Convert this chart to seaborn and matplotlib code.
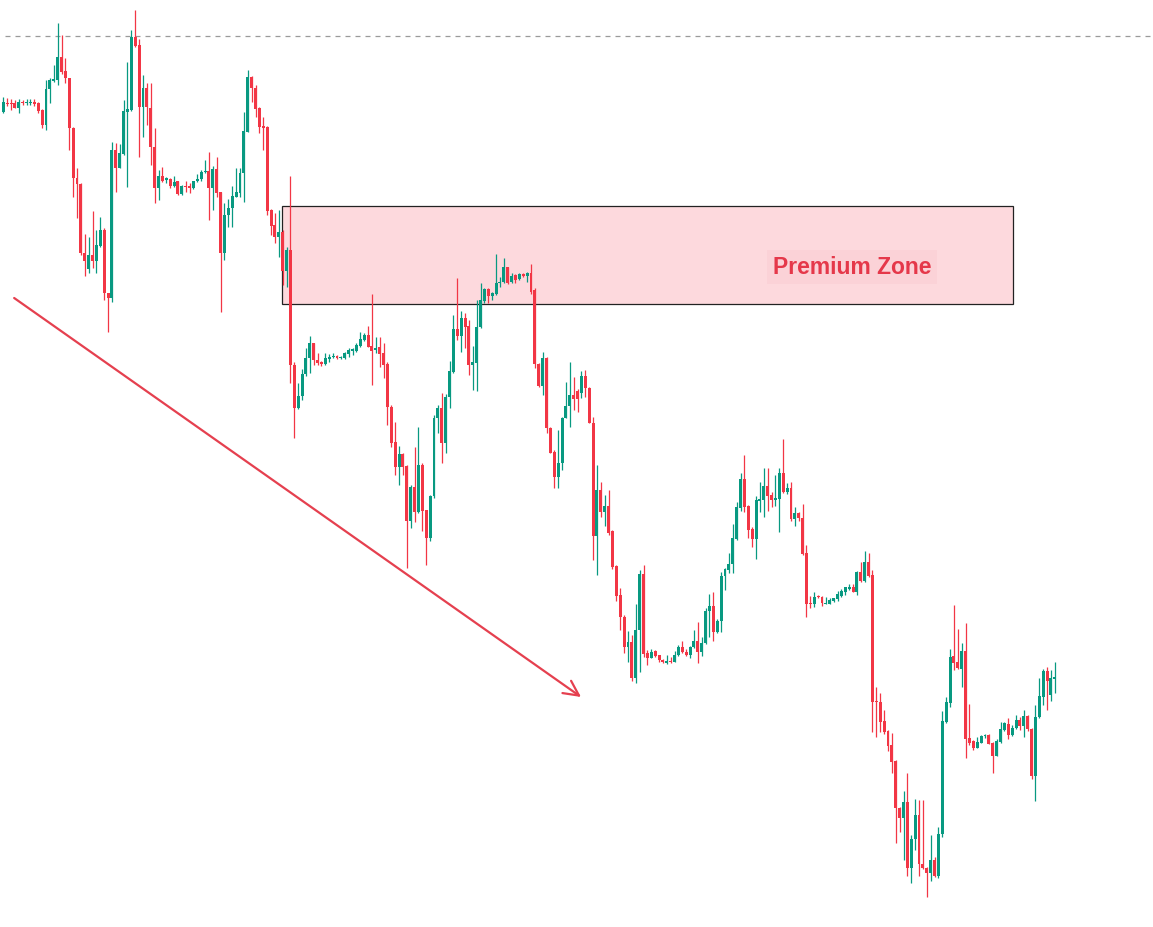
import numpy as np
import pandas as pd
import matplotlib
matplotlib.use("Agg")
import matplotlib.pyplot as plt
from matplotlib.patches import Rectangle
import seaborn as sns

# --- OHLC values (one candle per bar, left to right)
opens = [
    888, 897, 897, 897, 892, 898, 897, 897, 898, 897,
    890, 875, 911, 919, 920, 943, 929, 922, 872, 822,
    816, 747, 731, 745, 739, 754, 770, 707, 702, 850,
    832, 846, 888, 890, 963, 955, 893, 912, 892, 853,
    812, 824, 820, 821, 814, 819, 806, 814, 814, 812,
    819, 821, 828, 829, 812, 831, 808, 747, 785, 792,
    803, 807, 827, 868, 923, 912, 892, 874, 873, 790,
    775, 763, 768, 729, 750, 635, 592, 604, 626, 642,
    657, 640, 638, 636, 641, 643, 644, 642, 642, 646,
    649, 649, 654, 660, 665, 654, 650, 653, 647, 636,
    593, 558, 533, 546, 534, 479, 513, 488, 535, 490,
    462, 504, 582, 592, 557, 603, 628, 671, 664, 682,
    674, 635, 637, 673, 699, 711, 704, 706, 717, 718,
    733, 718, 725, 721, 726, 724, 727, 710, 636, 614,
    642, 572, 548, 523, 537, 582, 594, 605, 609, 607,
    624, 612, 577, 464, 510, 488, 494, 469, 434, 405,
    383, 353, 358, 322, 370, 426, 347, 342, 349, 345,
    340, 337, 339, 338, 345, 353, 348, 345, 353, 359,
    348, 357, 389, 394, 368, 379, 424, 430, 436, 461,
    492, 521, 494, 471, 461, 499, 500, 514, 505, 500,
    501, 527, 508, 512, 481, 487, 482, 447, 397, 396,
    404, 403, 396, 396, 399, 401, 404, 408, 411, 413,
    408, 428, 419, 438, 425, 299, 298, 279, 269, 255,
    239, 192, 182, 198, 132, 161, 185, 136, 132, 127,
    140, 124, 166, 278, 297, 344, 338, 331, 349, 262,
    259, 252, 257, 264, 265, 257, 244, 258, 270, 276,
    265, 272, 280, 274, 284, 271, 224, 283, 303, 329,
    305, 321,
]
closes = [
    898, 896, 896, 892, 898, 897, 898, 898, 896, 889,
    875, 911, 920, 921, 943, 928, 922, 872, 822, 816,
    747, 739, 745, 739, 755, 770, 707, 702, 850, 832,
    847, 889, 891, 963, 954, 893, 912, 893, 853, 812,
    824, 819, 822, 814, 818, 806, 814, 813, 812, 819,
    821, 828, 829, 812, 831, 807, 747, 785, 792, 804,
    808, 827, 869, 923, 912, 891, 873, 872, 789, 774,
    763, 768, 729, 750, 635, 592, 604, 626, 642, 657,
    640, 637, 636, 642, 643, 644, 642, 643, 647, 650,
    651, 655, 661, 665, 653, 649, 652, 646, 635, 593,
    557, 533, 546, 533, 479, 513, 488, 535, 489, 462,
    504, 582, 592, 557, 603, 629, 671, 664, 682, 673,
    635, 638, 673, 700, 711, 704, 707, 717, 718, 733,
    717, 724, 720, 726, 724, 727, 708, 636, 614, 642,
    572, 547, 523, 537, 582, 594, 605, 601, 601, 624,
    612, 577, 464, 510, 488, 494, 467, 433, 404, 383,
    353, 358, 322, 370, 426, 346, 342, 348, 344, 340,
    338, 339, 338, 345, 353, 348, 345, 353, 359, 348,
    357, 389, 394, 368, 379, 424, 431, 436, 462, 493,
    521, 493, 470, 461, 500, 501, 514, 504, 500, 502,
    527, 508, 512, 481, 487, 482, 446, 396, 396, 403,
    403, 397, 397, 400, 402, 406, 409, 413, 413, 408,
    428, 419, 438, 424, 298, 298, 278, 268, 254, 238,
    192, 182, 198, 132, 161, 185, 136, 132, 127, 140,
    124, 166, 279, 298, 343, 337, 332, 349, 261, 257,
    252, 258, 264, 265, 256, 244, 259, 271, 277, 265,
    272, 280, 274, 284, 271, 224, 283, 304, 329, 319,
    322, 323,
]
highs = [
    903, 902, 901, 900, 901, 900, 901, 901, 901, 898,
    891, 920, 922, 935, 977, 965, 942, 922, 873, 832,
    817, 766, 763, 789, 770, 783, 772, 707, 858, 857,
    856, 900, 938, 970, 990, 961, 925, 917, 917, 872,
    830, 833, 823, 822, 824, 819, 815, 819, 817, 819,
    826, 830, 840, 848, 834, 843, 808, 797, 801, 814,
    832, 832, 888, 930, 924, 915, 893, 883, 874, 791,
    787, 790, 770, 753, 824, 638, 617, 631, 652, 664,
    657, 647, 639, 647, 646, 647, 645, 644, 648, 652,
    652, 657, 668, 667, 674, 706, 663, 663, 657, 638,
    595, 578, 554, 547, 535, 515, 553, 573, 537, 490,
    505, 585, 595, 607, 606, 639, 685, 722, 689, 687,
    680, 654, 700, 717, 712, 712, 708, 746, 723, 742,
    733, 727, 726, 727, 727, 728, 736, 712, 637, 648,
    643, 573, 550, 570, 583, 618, 638, 623, 611, 629,
    630, 613, 583, 535, 518, 505, 510, 470, 435, 412,
    385, 369, 365, 396, 430, 435, 350, 351, 350, 345,
    341, 345, 343, 349, 355, 359, 351, 354, 370, 378,
    363, 392, 406, 408, 381, 428, 432, 447, 476, 498,
    527, 545, 495, 473, 504, 518, 532, 532, 508, 525,
    532, 561, 517, 518, 493, 488, 496, 455, 404, 408,
    405, 404, 403, 402, 402, 409, 411, 413, 416, 416,
    429, 438, 449, 447, 430, 313, 307, 290, 270, 267,
    240, 193, 209, 227, 165, 201, 200, 200, 133, 165,
    143, 173, 289, 303, 351, 395, 371, 357, 377, 296,
    260, 263, 265, 266, 266, 258, 261, 278, 278, 282,
    275, 285, 283, 290, 285, 272, 295, 322, 331, 333,
    330, 338,
]
lows = [
    887, 894, 890, 892, 887, 895, 895, 895, 894, 887,
    872, 870, 897, 918, 915, 926, 917, 850, 803, 782,
    745, 724, 727, 732, 727, 753, 700, 668, 698, 808,
    832, 845, 813, 889, 953, 843, 863, 875, 835, 797,
    800, 818, 817, 812, 813, 805, 805, 808, 807, 811,
    818, 819, 827, 780, 790, 803, 688, 740, 773, 773,
    803, 803, 798, 868, 898, 883, 867, 850, 785, 765,
    757, 743, 715, 713, 617, 562, 591, 600, 624, 627,
    635, 635, 634, 635, 638, 642, 641, 641, 641, 643,
    645, 648, 653, 659, 653, 615, 647, 633, 622, 575,
    553, 525, 515, 525, 432, 472, 478, 487, 469, 435,
    459, 502, 567, 537, 547, 592, 627, 660, 648, 652,
    625, 610, 609, 672, 697, 697, 700, 705, 713, 717,
    716, 717, 717, 720, 723, 718, 706, 632, 613, 605,
    567, 547, 512, 512, 530, 582, 573, 590, 588, 602,
    603, 577, 440, 425, 483, 474, 465, 431, 399, 370,
    347, 338, 319, 317, 328, 343, 335, 342, 343, 338,
    337, 336, 337, 338, 344, 347, 344, 342, 352, 337,
    344, 356, 363, 359, 367, 368, 410, 427, 427, 460,
    489, 488, 462, 453, 441, 488, 483, 489, 493, 494,
    468, 507, 506, 479, 474, 479, 445, 383, 392, 393,
    402, 394, 396, 396, 398, 399, 403, 405, 410, 408,
    405, 418, 418, 423, 268, 263, 268, 266, 249, 227,
    157, 168, 140, 124, 117, 150, 124, 131, 103, 119,
    123, 122, 163, 277, 293, 330, 331, 313, 242, 255,
    250, 252, 257, 262, 256, 227, 244, 257, 269, 261,
    264, 271, 270, 263, 269, 221, 199, 282, 295, 290,
    299, 307,
]

# annotations
resistance_level = 964
zone_start, zone_end = 71.8, 260.2
zone_bottom, zone_top = 696, 794
zone_label = "Premium Zone"
label_x, label_y = 218.7, 733
trend_start = (2.8, 702)
trend_end = (148.9, 303)

df = pd.DataFrame({"open": opens, "high": highs, "low": lows, "close": closes})
df["idx"] = np.arange(len(df))
df["up"] = df["close"] >= df["open"]

UP = "#089981"
DOWN = "#F23645"

sns.set_theme(style="white")
fig = plt.figure(figsize=(11.53, 9.27), dpi=100)
ax = fig.add_axes([0, 0, 1, 1])

colors = np.where(df["up"], UP, DOWN)

# wicks
ax.vlines(df["idx"], df["low"], df["high"], colors=colors, linewidth=0.9, zorder=3)

# bodies
body_bottom = df[["open", "close"]].min(axis=1)
body_height = (df["close"] - df["open"]).abs().clip(lower=1.2)
ax.bar(df["idx"], body_height, bottom=body_bottom, width=0.76,
       color=colors, linewidth=0, zorder=4)

# dashed level at the top
ax.axhline(resistance_level, color="#9a9a9a", linestyle=(0, (4, 4)),
           linewidth=0.9, xmin=0.004, zorder=1)

# premium zone box
ax.add_patch(Rectangle((zone_start, zone_bottom), zone_end - zone_start,
                       zone_top - zone_bottom, facecolor="#fdd9dd",
                       edgecolor="#222222", linewidth=0.9, zorder=2))
ax.text(label_x, label_y, zone_label, color="#E5384A", fontsize=16.5,
        fontweight="bold", family=["Liberation Sans", "DejaVu Sans"],
        ha="center", va="center",
        bbox=dict(boxstyle="square,pad=0.25", facecolor="#fbd2d7", edgecolor="none"),
        zorder=5)

# downtrend arrow
ax.annotate("", xy=trend_end, xytext=trend_start,
            arrowprops=dict(arrowstyle="->,head_length=0.9,head_width=0.45",
                            color="#E5404F", linewidth=1.6, shrinkA=0, shrinkB=0),
            zorder=2)

ax.set_xlim(-0.85, 296.3)
ax.set_ylim(73, 1000)
ax.axis("off")

fig.savefig("out.png", dpi=100)
